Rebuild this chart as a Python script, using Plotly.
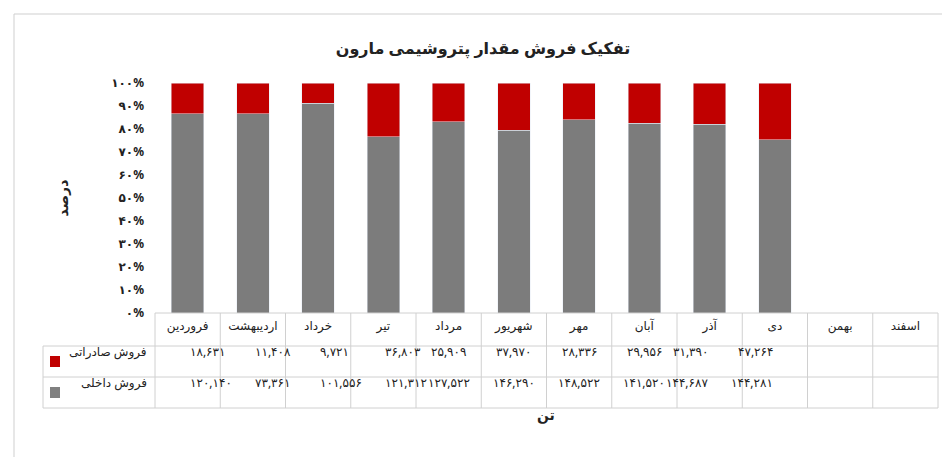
import plotly.graph_objects as go

months = ["فروردین","اردیبهشت","خرداد","تیر","مرداد","شهریور","مهر","آبان","آذر","دی","بهمن","اسفند"]
export_vals = [18631,11408,9721,36803,25909,37970,28336,29956,31390,47264,None,None]
domestic_vals = [120140,73361,101556,121312,127522,146290,148522,141520,144687,144281,None,None]
tick_vals = [0,10,20,30,40,50,60,70,80,90,100]

FA = str.maketrans("0123456789","۰۱۲۳۴۵۶۷۸۹")
def fa(s): return str(s).translate(FA)
def fmt(v): return "" if v is None else fa(f"{v:,}")

FONT = "Noto Sans, DejaVu Sans"
fig = go.Figure()
fig.add_bar(x=months, y=domestic_vals, name="فروش داخلی", marker_color="#7c7c7c", width=0.5)
fig.add_bar(x=months, y=export_vals, name="فروش صادراتی", marker_color="#c00000", width=0.5)

L, R, T, B, H = 147, 20, 75, 152, 457
PW = 950-L-R; PH = H-T-B
def xp(px): return (px-L)/PW
def yp(py): return (H-B-py)/PH

shapes = [dict(type="rect", xref="paper", yref="paper", x0=xp(6), x1=xp(941), y0=yp(451), y1=yp(6),
               line=dict(color="#cfcfcf", width=1))]
rows = [305, 338, 369, 400]
n = len(months)
cw = PW/n
for r in rows:
    x0 = 35 if r != 305 else L
    shapes.append(dict(type="line", xref="paper", yref="paper", x0=xp(x0), x1=xp(L+PW), y0=yp(r), y1=yp(r),
                       line=dict(color="#d0d0d0", width=1)))
for i in range(n+1):
    shapes.append(dict(type="line", xref="paper", yref="paper", x0=xp(L+i*cw), x1=xp(L+i*cw), y0=yp(305), y1=yp(400),
                       line=dict(color="#d0d0d0", width=1)))
shapes.append(dict(type="line", xref="paper", yref="paper", x0=xp(35), x1=xp(35), y0=yp(338), y1=yp(400),
                   line=dict(color="#d0d0d0", width=1)))
shapes.append(dict(type="rect", xref="paper", yref="paper", x0=xp(42), x1=xp(52), y0=yp(359), y1=yp(348),
                   fillcolor="#c00000", line=dict(width=0)))
shapes.append(dict(type="rect", xref="paper", yref="paper", x0=xp(42), x1=xp(52), y0=yp(390), y1=yp(379),
                   fillcolor="#808080", line=dict(width=0)))

ann = []
for i in range(n):
    cx = xp(L+(i+0.5)*cw)
    ann.append(dict(x=cx, y=yp(353.5), xref="paper", yref="paper", text=fmt(export_vals[i]), showarrow=False,
                    font=dict(size=12, color="#222")))
    ann.append(dict(x=cx, y=yp(384.5), xref="paper", yref="paper", text=fmt(domestic_vals[i]), showarrow=False,
                    font=dict(size=12, color="#222")))
ann.append(dict(x=xp(141), y=yp(353.5), xref="paper", yref="paper", xanchor="right", text="فروش صادراتی", showarrow=False, font=dict(size=12)))
ann.append(dict(x=xp(141), y=yp(384.5), xref="paper", yref="paper", xanchor="right", text="فروش داخلی", showarrow=False, font=dict(size=12)))
ann.append(dict(x=xp(538), y=yp(418), xref="paper", yref="paper", text="<b>تن</b>", showarrow=False, font=dict(size=14)))
ann.append(dict(x=xp(42), y=yp(190), xref="paper", yref="paper", text="<b>درصد</b>", showarrow=False, textangle=-90, font=dict(size=14)))

fig.update_layout(
    barmode="stack", barnorm="percent", width=950, height=457,
    margin=dict(l=L, r=R, t=T, b=B, autoexpand=False), paper_bgcolor="white", plot_bgcolor="white",
    font=dict(family=FONT, color="#222"), showlegend=False,
    title=dict(text="<b>تفکیک فروش مقدار پتروشیمی مارون</b>", x=0.5, xanchor="center", y=1-35/457, font=dict(size=16), automargin=False),
    xaxis=dict(tickfont=dict(size=12, color="#222"), showline=False, ticks="", ticklabelstandoff=4, automargin=False),
    yaxis=dict(range=[0,100], tickvals=tick_vals, ticktext=[f"<b>{fa(v)}%</b>" for v in tick_vals],
               showgrid=False, tickfont=dict(size=12), ticks="", ticklabelstandoff=10, automargin=False),
    shapes=shapes, annotations=ann,
)
fig.write_html("out.html")
